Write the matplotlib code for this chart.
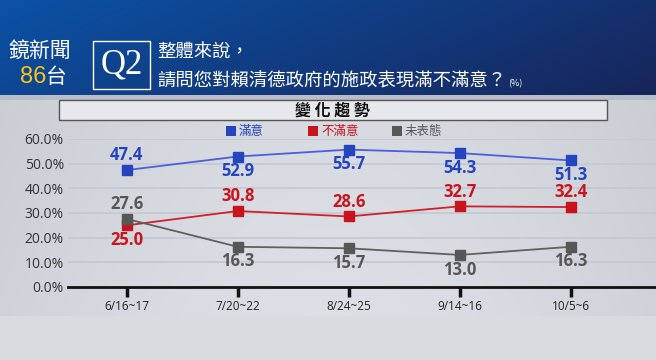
import numpy as np
import matplotlib
matplotlib.use('Agg')
import matplotlib.pyplot as plt
from matplotlib.patches import Rectangle

plt.rcParams['font.family'] = ['Noto Sans CJK TC', 'DejaVu Sans']

# data
dates = ['6/16~17', '7/20~22', '8/24~25', '9/14~16', '10/5~6']
satisfied = [47.4, 52.9, 55.7, 54.3, 51.3]
dissatisfied = [25.0, 30.8, 28.6, 32.7, 32.4]
no_opinion = [27.6, 16.3, 15.7, 13.0, 16.3]
series_names = ['滿意', '不滿意', '未表態']
yticks = [0, 10, 20, 30, 40, 50, 60]

# which side each value label sits on (+1 above, -1 below)
sat_side = [1, -1, -1, -1, -1]
dis_side = [-1, 1, 1, 1, 1]
no_side = [1, -1, -1, -1, -1]

W, H = 656, 360
fig = plt.figure(figsize=(W / 100, H / 100), dpi=100)

# background
bg = fig.add_axes([0, 0, 1, 1])
bg.set_axis_off()
img = np.zeros((H, W, 3))
xx = np.linspace(0, 1, W)[None, :]
yy = np.linspace(0, 1, 95)[:, None]
t = np.clip(0.75 * xx + 0.25 * yy, 0, 1)
c1 = np.array([0x0b, 0x52, 0xa6]) / 255
c2 = np.array([0x17, 0x25, 0x5a]) / 255
img[:95] = c1 * (1 - t[..., None]) + c2 * t[..., None]
img[95:100] = np.array([0xb8, 0xbd, 0xc8]) / 255
gx = np.linspace(0, 1, W)[None, :]
gy = np.linspace(0, 1, 216)[:, None]
g = 0.81 + 0.05 * np.sin(np.pi * gx) + 0.02 * gy
img[100:316] = np.dstack([g - 0.015, g - 0.005, g + 0.02])
img[316:] = np.array([0xd8, 0xdb, 0xe0]) / 255
bg.imshow(img, extent=[0, W, H, 0], aspect='auto')
bg.set_xlim(0, W)
bg.set_ylim(H, 0)

# header
bg.text(40, 51, '鏡新聞', color='white', fontsize=15, ha='center', va='center')
bg.text(33, 77, '86', color='#f7c31b', fontsize=17, ha='center', va='center', family='Liberation Sans')
bg.text(56, 77, '台', color='white', fontsize=15, ha='center', va='center')
bg.add_patch(Rectangle((93, 41), 57, 48, fill=False, edgecolor='white', lw=1))
bg.text(121.5, 65, 'Q2', color='white', fontsize=25, ha='center', va='center', family='Liberation Serif')
bg.text(157, 53, '整體來說，', color='white', fontsize=13.2, ha='left', va='center', fontweight='medium')
bg.text(157, 81, '請問您對賴清德政府的施政表現滿不滿意？', color='white', fontsize=13.2,
        ha='left', va='center', fontweight='medium')
bg.text(508, 84, '(%)', color='white', fontsize=6.5, ha='left', va='center')

# title box
bg.add_patch(Rectangle((59, 100), 548, 20, facecolor='#e6e8ec', edgecolor='#555555', lw=1))
bg.text(332, 110.5, '變 化 趨 勢', color='#111111', fontsize=11.5, ha='center', va='center', fontweight='bold')

# chart
ax = fig.add_axes([68 / W, (H - 287) / H, (W - 68) / W, 148 / H])
ax.set_facecolor('none')
x = np.arange(len(dates))
colors = ['#2545c0', '#c8141c', '#575757']
line_colors = ['#4a5fe0', '#d0202a', '#606060']
data = [satisfied, dissatisfied, no_opinion]
sides = [sat_side, dis_side, no_side]
for vals, col, lcol, side in zip(data, colors, line_colors, sides):
    ax.plot(x, vals, color=lcol, lw=1.3, marker='s', markersize=6.5,
            markerfacecolor=col, markeredgecolor=col, clip_on=False, zorder=3)
    for xi, v, s in zip(x, vals, side):
        ax.annotate(f'{v:.1f}', (xi, v), xytext=(0, 10.5 * s), textcoords='offset points',
                    ha='center', va='center', color=col, fontsize=12, fontweight='bold',
                    family='Open Sans', zorder=4)

ax.set_xlim(-0.53, 4.77)
ax.set_ylim(0, 60)
ax.set_yticks(yticks)
ax.set_yticklabels([f'{v:.1f}%' for v in yticks], family='Open Sans', fontsize=10, color='#333333')
ax.set_xticks(x)
ax.set_xticklabels(dates, family='Open Sans', fontsize=8.5, color='#222222')
for v in yticks[1:]:
    ax.axhline(v, color='#c3c8d2', lw=1.2, zorder=1)
for sp in ['top', 'right', 'left']:
    ax.spines[sp].set_visible(False)
ax.spines['bottom'].set_linewidth(2)
ax.spines['bottom'].set_color('#111111')
ax.tick_params(axis='y', length=0, pad=3)
ax.tick_params(axis='x', direction='out', length=7, width=2.5, color='#111111', pad=2)

# legend
leg_x = [231, 313, 397]
for lx, name, col in zip(leg_x, series_names, colors):
    bg.add_patch(Rectangle((lx - 5, 126), 10, 10, facecolor=col, edgecolor='none'))
    bg.text(lx + 8, 131, name, color=col, fontsize=9, ha='left', va='center')

fig.savefig('out.png', dpi=100)
